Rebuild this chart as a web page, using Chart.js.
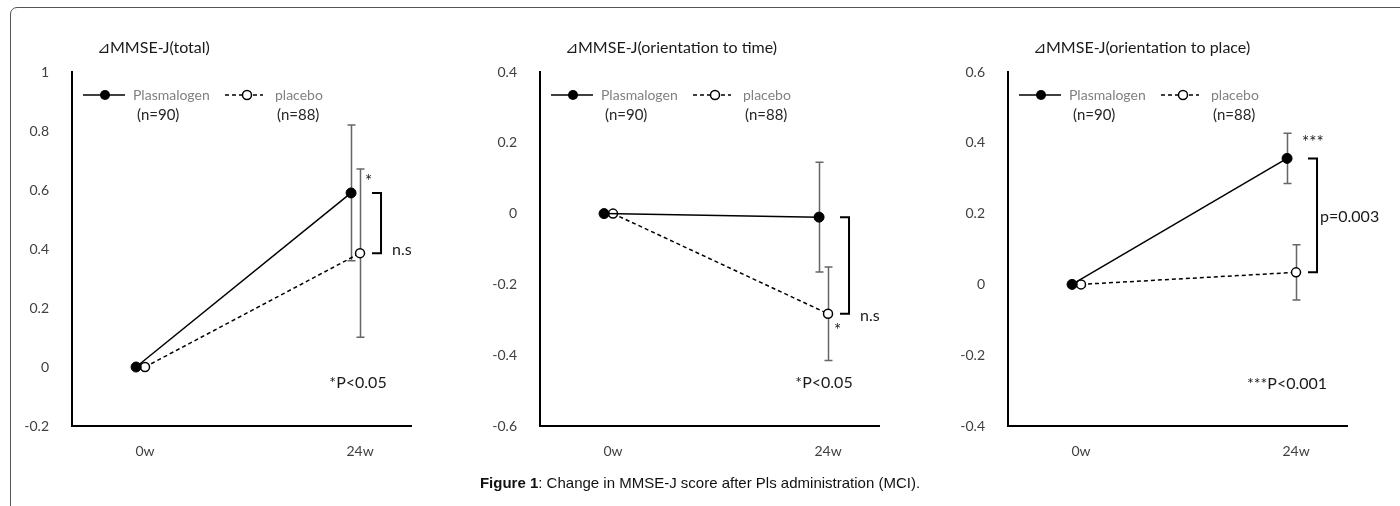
<!DOCTYPE html>
<html lang="en">
<head>
  <meta charset="UTF-8" />
  <title>Change in MMSE-J score after Pls administration (MCI)</title>
  <script src="https://cdn.jsdelivr.net/npm/chart.js"></script>
  <style>
    body {
      margin: 0;
      width: 1400px;
      height: 506px;
      background: #fff;
      position: relative;
      overflow: hidden;
      font-family: Lato, 'Open Sans', sans-serif;
    }
    #frame {
      position: absolute;
      left: 10px;
      top: 7px;
      width: 1400px;
      height: 600px;
      border: 1.5px solid #555;
      border-top-left-radius: 7px;
    }
    canvas {
      position: absolute;
      top: 30px;
    }
    #caption {
      position: absolute;
      left: 0;
      width: 1400px;
      top: 474px;
      text-align: center;
      font-family: 'Liberation Sans', Arial, sans-serif;
      font-size: 15px;
      color: #111;
    }
  </style>
</head>
<body>
  <div id="frame"></div>
  <canvas id="chartTotal" width="464" height="446" style="left:2px"></canvas>
  <canvas id="chartTime" width="464" height="446" style="left:470px"></canvas>
  <canvas id="chartPlace" width="464" height="446" style="left:938px"></canvas>
  <div id="caption"><b>Figure 1</b>: Change in MMSE-J score after Pls administration (MCI).</div>

  <script>
    const weeks = [0, 24];
    const weekLabels = ["0w", "24w"];

    // change from baseline (mean) and error bar half-length
    const totalPls = [0, 0.59];
    const totalPlsErr = [0, 0.23];
    const totalPlc = [0, 0.386];
    const totalPlcErr = [0, 0.285];

    const timePls = [0, -0.01];
    const timePlsErr = [0, 0.155];
    const timePlc = [0, -0.283];
    const timePlcErr = [0, 0.132];

    const placePls = [0, 0.356];
    const placePlsErr = [0, 0.071];
    const placePlc = [0, 0.034];
    const placePlcErr = [0, 0.078];

    const groupNames = ["Plasmalogen", "placebo"];
    const groupN = ["(n=90)", "(n=88)"];

    const tickColor = "#404040";
    const barColor = "#666";

    function makeChart(id, cfg) {
      const extras = {
        id: "extras",
        beforeDatasetsDraw(chart) {
          const ctx = chart.ctx;
          const y = chart.scales.y;
          ctx.save();
          ctx.strokeStyle = barColor;
          ctx.lineWidth = 1.5;
          [cfg.plsErr, cfg.plcErr].forEach((errs, i) => {
            const meta = chart.getDatasetMeta(i);
            const vals = i === 0 ? cfg.pls : cfg.plc;
            errs.forEach((e, j) => {
              if (!e) return;
              const px = Math.round(meta.data[j].x) + 0.5;
              const top = y.getPixelForValue(vals[j] + e);
              const bot = y.getPixelForValue(vals[j] - e);
              ctx.beginPath();
              ctx.moveTo(px, top); ctx.lineTo(px, bot);
              ctx.moveTo(px - 4, top); ctx.lineTo(px + 4, top);
              ctx.moveTo(px - 4, bot); ctx.lineTo(px + 4, bot);
              ctx.stroke();
            });
          });
          ctx.restore();
        },
        afterDatasetsDraw(chart) {
          const ctx = chart.ctx;
          const xs = chart.scales.x;
          const ys = chart.scales.y;
          const area = chart.chartArea;
          const x24 = xs.getPixelForValue(weeks[1]);
          ctx.save();

          // bracket between the two 24w means
          const bt = ys.getPixelForValue(cfg.pls[1]);
          const bb = ys.getPixelForValue(cfg.plc[1]);
          ctx.strokeStyle = "#000";
          ctx.lineWidth = 2;
          ctx.beginPath();
          ctx.moveTo(x24 + 12, bt);
          ctx.lineTo(x24 + 21, bt);
          ctx.lineTo(x24 + 21, bb);
          ctx.lineTo(x24 + 12, bb);
          ctx.stroke();

          // notes
          ctx.fillStyle = "#1a1a1a";
          ctx.textBaseline = "middle";
          cfg.notes.forEach(n => {
            ctx.font = (n.size || 16) + "px Lato, sans-serif";
            ctx.textAlign = n.align;
            ctx.fillText(n.text, x24 + n.dx, ys.getPixelForValue(n.y));
          });

          // title
          ctx.textAlign = "left";
          ctx.font = "16px Lato, sans-serif";
          ctx.fillStyle = "#1a1a1a";
          ctx.fillText(cfg.title, area.left + 25, area.top - 24);

          // legend
          const ly = area.top + 23;
          const l = area.left;
          ctx.strokeStyle = "#000";
          ctx.lineWidth = 1.5;
          ctx.beginPath();
          ctx.moveTo(l + 11, ly); ctx.lineTo(l + 53, ly);
          ctx.stroke();
          ctx.setLineDash([4, 3]);
          ctx.beginPath();
          ctx.moveTo(l + 153, ly); ctx.lineTo(l + 191, ly);
          ctx.stroke();
          ctx.setLineDash([]);
          ctx.fillStyle = "#000";
          ctx.beginPath();
          ctx.arc(l + 33, ly, 5, 0, Math.PI * 2);
          ctx.fill();
          ctx.fillStyle = "#fff";
          ctx.beginPath();
          ctx.arc(l + 175, ly, 4.5, 0, Math.PI * 2);
          ctx.fill();
          ctx.stroke();

          ctx.font = "14px Lato, sans-serif";
          ctx.fillStyle = "#808080";
          ctx.fillText(groupNames[0], l + 61, ly);
          ctx.fillText(groupNames[1], l + 203, ly);
          ctx.font = "15px Lato, sans-serif";
          ctx.fillStyle = "#262626";
          ctx.fillText(groupN[0], l + 65, ly + 20);
          ctx.fillText(groupN[1], l + 205, ly + 20);
          ctx.restore();
        }
      };

      return new Chart(document.getElementById(id), {
        type: "line",
        data: {
          datasets: [
            {
              label: groupNames[0],
              data: cfg.pls.map((v, j) => ({ x: weeks[j] - 1, y: v })),
              borderColor: "#000",
              borderWidth: 1.5,
              pointRadius: 5,
              pointBackgroundColor: "#000",
              pointBorderColor: "#000",
              pointBorderWidth: 1
            },
            {
              label: groupNames[1],
              data: cfg.plc.map((v, j) => ({ x: weeks[j], y: v })),
              borderColor: "#000",
              borderWidth: 1.5,
              borderDash: [4, 3],
              pointRadius: 4.5,
              pointBackgroundColor: "#fff",
              pointBorderColor: "#000",
              pointBorderWidth: 1.5
            }
          ]
        },
        options: {
          responsive: false,
          animation: false,
          layout: { padding: { top: 42, right: 55, left: 0, bottom: 0 } },
          plugins: {
            legend: { display: false },
            tooltip: { enabled: false }
          },
          scales: {
            x: {
              type: "linear",
              min: -8.15,
              max: 29.69,
              grid: { display: false },
              border: { color: "#000", width: 2 },
              afterBuildTicks: s => { s.ticks = weeks.map(v => ({ value: v })); },
              afterFit: s => { s.height = 50; },
              ticks: {
                autoSkip: false,
                maxRotation: 0,
                padding: 9,
                color: tickColor,
                font: { family: "Lato", size: 14 },
                callback: (v, i) => weekLabels[i]
              }
            },
            y: {
              min: cfg.min,
              max: cfg.max,
              grid: { display: false },
              border: { color: "#000", width: 2 },
              afterFit: s => { s.width = 70; },
              ticks: {
                stepSize: 0.2,
                padding: 15,
                color: tickColor,
                font: { family: "Lato", size: 14 },
                callback: v => String(parseFloat(v.toFixed(1)))
              }
            }
          }
        },
        plugins: [extras]
      });
    }

    makeChart("chartTotal", {
      title: "⊿MMSE-J(total)",
      min: -0.2, max: 1,
      pls: totalPls, plsErr: totalPlsErr, plc: totalPlc, plcErr: totalPlcErr,
      notes: [
        { text: "*", dx: 5, y: 0.63, align: "left", size: 17 },
        { text: "n.s", dx: 32, y: 0.396, align: "left" },
        { text: "*P<0.05", dx: -2, y: -0.054, align: "center" }
      ]
    });

    makeChart("chartTime", {
      title: "⊿MMSE-J(orientation to time)",
      min: -0.6, max: 0.4,
      pls: timePls, plsErr: timePlsErr, plc: timePlc, plcErr: timePlcErr,
      notes: [
        { text: "*", dx: 6, y: -0.33, align: "left", size: 17 },
        { text: "n.s", dx: 32, y: -0.289, align: "left" },
        { text: "*P<0.05", dx: -4, y: -0.479, align: "center" }
      ]
    });

    makeChart("chartPlace", {
      title: "⊿MMSE-J(orientation to place)",
      min: -0.4, max: 0.6,
      pls: placePls, plsErr: placePlsErr, plc: placePlc, plcErr: placePlcErr,
      notes: [
        { text: "***", dx: 6, y: 0.4, align: "left", size: 17 },
        { text: "p=0.003", dx: 24, y: 0.19, align: "left" },
        { text: "***P<0.001", dx: -9, y: -0.28, align: "center" }
      ]
    });
  </script>
</body>
</html>
